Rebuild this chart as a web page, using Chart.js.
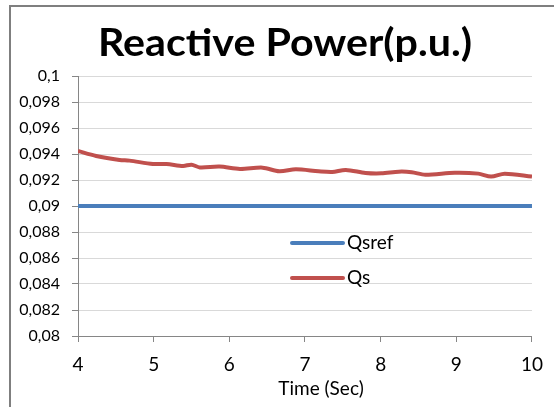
<!DOCTYPE html>
<html lang="en">
<head>
    <meta charset="UTF-8">
    <title>Reactive Power</title>
    <style>
        html, body {
            margin: 0;
            padding: 0;
            background-color: white;
            overflow: hidden;
        }
        .frame {
            position: absolute;
            left: 9px;
            top: 5px;
            width: 600px;
            height: 500px;
            border-left: 2px solid #7f7f7f;
            border-top: 2px solid #7f7f7f;
        }
        #wrap {
            position: absolute;
            left: 0;
            top: 0;
            width: 554px;
            height: 407px;
        }
    </style>
    <script src="https://cdn.jsdelivr.net/npm/chart.js"></script>
</head>
<body>
    <div class="frame"></div>
    <div id="wrap">
        <canvas id="qChart"></canvas>
    </div>

    <script>
        // Data
        const timeQs = [4.0, 4.24, 4.55, 4.68, 4.99, 5.17, 5.39, 5.5, 5.61, 5.87, 6.14, 6.44, 6.66, 6.88,
                        7.18, 7.36, 7.54, 7.8, 8.01, 8.24, 8.41, 8.59, 8.98, 9.29, 9.46, 9.64, 10.0];
        const qsValues = [0.09423, 0.09385, 0.09354, 0.09349, 0.09323, 0.09323, 0.09308, 0.09318, 0.09297,
                          0.09303, 0.09285, 0.09295, 0.09267, 0.09282, 0.09267, 0.09262, 0.09277, 0.09254,
                          0.09251, 0.09264, 0.0926, 0.09241, 0.09256, 0.09249, 0.09226, 0.09249, 0.09226];
        const timeRef = [4, 10];
        const qsrefValues = [0.09, 0.09];
        const seriesNames = ['Qsref', 'Qs'];
        const xTicks = [4, 5, 6, 7, 8, 9, 10];
        const yTicks = [0.08, 0.082, 0.084, 0.086, 0.088, 0.09, 0.092, 0.094, 0.096, 0.098, 0.1];
        const chartTitle = 'Reactive Power(p.u.)';
        const xTitle = 'Time (Sec)';

        const fontName = 'Lato, "Open Sans", sans-serif';

        // titles and legend drawn at fixed spots, like the original
        const decorations = {
            id: 'decorations',
            afterDraw(chart) {
                const c = chart.ctx;
                c.save();
                c.fillStyle = '#000';
                c.textAlign = 'center';
                c.textBaseline = 'alphabetic';
                c.font = 'bold 38px ' + fontName;
                // original title is a bit wider than Lato, stretch it to fit
                const w = c.measureText(chartTitle).width;
                c.save();
                c.translate(285, 56);
                c.scale(374 / w, 1);
                c.fillText(chartTitle, 0, 0);
                c.restore();

                c.textBaseline = 'middle';
                c.font = '19px ' + fontName;
                c.fillText(xTitle, 321, 389);

                const spots = [[292, 243], [292, 278]];
                c.textAlign = 'left';
                chart.data.datasets.forEach((ds, i) => {
                    const [x, y] = spots[i];
                    c.strokeStyle = ds.borderColor;
                    c.lineWidth = 4;
                    c.lineCap = 'round';
                    c.beginPath();
                    c.moveTo(x, y);
                    c.lineTo(x + 51, y);
                    c.stroke();
                    c.font = '19px ' + fontName;
                    c.fillText(ds.label, x + 55, y);
                });
                c.restore();
            }
        };

        const ctx = document.getElementById('qChart').getContext('2d');
        const chart = new Chart(ctx, {
            type: 'line',
            data: {
                datasets: [{
                    label: seriesNames[0],
                    data: timeRef.map((t, i) => ({ x: t, y: qsrefValues[i] })),
                    borderColor: '#4a7ebb',
                    borderWidth: 4,
                    pointRadius: 0
                }, {
                    label: seriesNames[1],
                    data: timeQs.map((t, i) => ({ x: t, y: qsValues[i] })),
                    borderColor: '#c0504d',
                    borderWidth: 4,
                    pointRadius: 0,
                    tension: 0.3
                }]
            },
            options: {
                responsive: true,
                maintainAspectRatio: false,
                animation: false,
                layout: {
                    padding: { left: 16, right: 15, top: 76, bottom: 0 }
                },
                plugins: {
                    legend: { display: false },
                    tooltip: { enabled: false },
                    title: { display: false }
                },
                scales: {
                    x: {
                        type: 'linear',
                        min: 4,
                        max: 10,
                        afterBuildTicks: s => { s.ticks = xTicks.map(v => ({ value: v })); },
                        afterFit: s => { s.height = 71; },
                        grid: {
                            drawOnChartArea: false,
                            tickLength: 6,
                            color: '#868686'
                        },
                        border: { color: '#868686', width: 1 },
                        ticks: {
                            color: '#000',
                            padding: 11,
                            maxRotation: 0,
                            font: { family: fontName, size: 19 }
                        }
                    },
                    y: {
                        min: 0.08,
                        max: 0.1,
                        afterBuildTicks: s => { s.ticks = yTicks.map(v => ({ value: v })); },
                        afterFit: s => { s.width = 62; },
                        grid: {
                            color: '#d9d9d9',
                            tickColor: '#868686',
                            tickLength: 6
                        },
                        border: { color: '#868686', width: 1 },
                        ticks: {
                            color: '#000',
                            padding: 12,
                            font: { family: fontName, size: 16 },
                            callback: v => String(parseFloat(v.toFixed(3))).replace('.', ',')
                        }
                    }
                }
            },
            plugins: [decorations]
        });
    </script>
</body>
</html>
